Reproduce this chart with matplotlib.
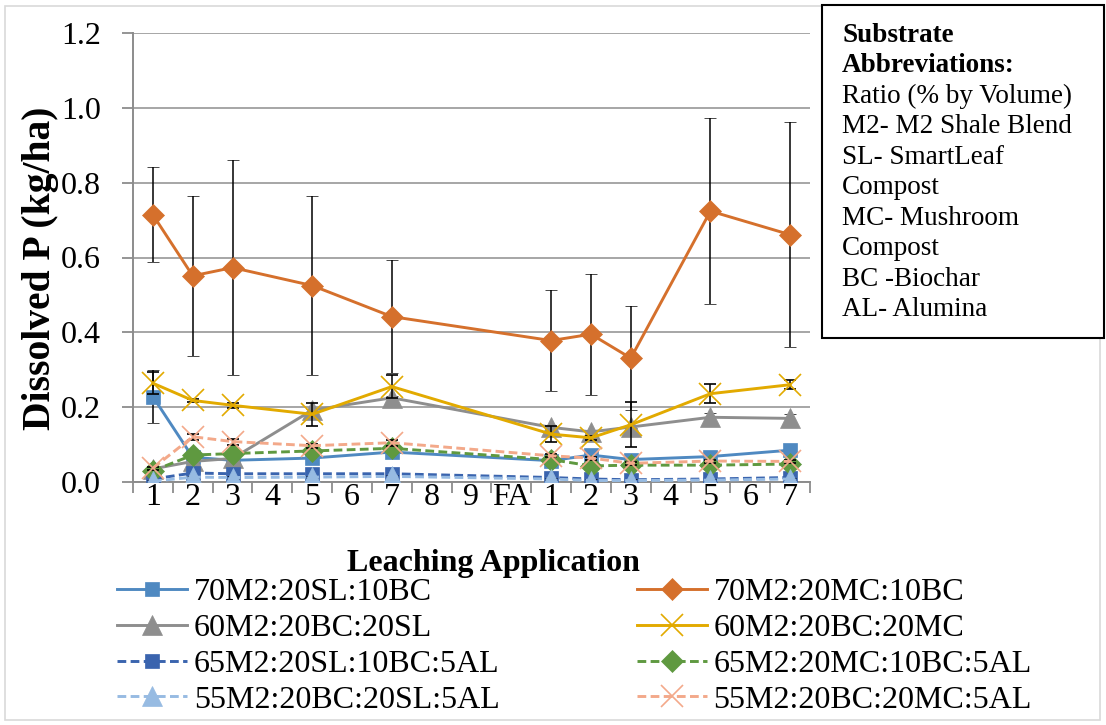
import matplotlib.pyplot as plt
from matplotlib.patches import Rectangle

plt.rcParams['font.family'] = ['Liberation Serif', 'DejaVu Serif']

# x categories and where samples were taken
x_labels = ['1', '2', '3', '4', '5', '6', '7', '8', '9', 'FA', '1', '2', '3', '4', '5', '6', '7']
sample_idx = [0, 1, 2, 4, 6, 10, 11, 12, 14, 16]

names = ['70M2:20SL:10BC', '70M2:20MC:10BC', '60M2:20BC:20SL', '60M2:20BC:20MC',
         '65M2:20SL:10BC:5AL', '65M2:20MC:10BC:5AL', '55M2:20BC:20SL:5AL', '55M2:20BC:20MC:5AL']

sl_bc = [0.228, 0.066, 0.058, 0.064, 0.080, 0.057, 0.072, 0.060, 0.068, 0.085]
mc_bc = [0.714, 0.551, 0.573, 0.525, 0.442, 0.378, 0.395, 0.331, 0.724, 0.661]
bc_sl = [0.035, 0.055, 0.063, 0.192, 0.225, 0.146, 0.134, 0.147, 0.173, 0.170]
bc_mc = [0.264, 0.218, 0.205, 0.181, 0.255, 0.128, 0.118, 0.153, 0.236, 0.260]
sl_bc_al = [0.008, 0.024, 0.022, 0.022, 0.022, 0.012, 0.008, 0.006, 0.008, 0.012]
mc_bc_al = [0.030, 0.072, 0.076, 0.083, 0.090, 0.060, 0.043, 0.045, 0.045, 0.048]
bc_sl_al = [0.002, 0.013, 0.012, 0.013, 0.015, 0.008, 0.004, 0.004, 0.005, 0.008]
bc_mc_al = [0.037, 0.121, 0.108, 0.097, 0.105, 0.070, 0.064, 0.050, 0.056, 0.055]

# standard errors
sl_bc_err = [0.070, 0.004, 0.004, 0.004, 0.004, 0.004, 0.004, 0.004, 0.004, 0.004]
mc_bc_err = [0.127, 0.213, 0.287, 0.239, 0.151, 0.135, 0.162, 0.139, 0.249, 0.301]
bc_sl_err = [0.004, 0.004, 0.004, 0.004, 0.004, 0.004, 0.004, 0.004, 0.012, 0.012]
bc_mc_err = [0.030, 0.005, 0.006, 0.030, 0.030, 0.022, 0.005, 0.060, 0.026, 0.012]
sl_bc_al_err = [0.003] * 10
mc_bc_al_err = [0.003] * 10
bc_sl_al_err = [0.003] * 10
bc_mc_al_err = [0.004, 0.008, 0.008, 0.005, 0.008, 0.004, 0.004, 0.004, 0.004, 0.004]

values = [sl_bc, mc_bc, bc_sl, bc_mc, sl_bc_al, mc_bc_al, bc_sl_al, bc_mc_al]
errors = [sl_bc_err, mc_bc_err, bc_sl_err, bc_mc_err, sl_bc_al_err, mc_bc_al_err, bc_sl_al_err, bc_mc_al_err]

colors = ['#4F89C1', '#D5702C', '#8E8E8E', '#E2AA00', '#3A64AE', '#5F9940', '#97BBE2', '#F3A98A']
markers = ['s', 'D', '^', 'x', 's', 'D', '^', 'x']
msizes = [10.5, 11, 14, 16, 10.5, 11, 14, 16]
styles = ['-', '-', '-', '-', '--', '--', '--', '--']

fig = plt.figure(figsize=(11.06, 7.25), dpi=100)
ax = fig.add_axes([133 / 1106, 1 - 482 / 725, 677 / 1106, 449 / 725])

handles = []
for i in range(8):
    eb = ax.errorbar(sample_idx, values[i], yerr=errors[i], color=colors[i], ecolor='black',
                     elinewidth=1.1, capsize=4.5, capthick=1.1, lw=2.1, ls=styles[i],
                     marker=markers[i], markersize=msizes[i], markeredgewidth=1.2 if markers[i] == 'x' else 0.5,
                     markeredgecolor=colors[i], zorder=3 + i)
    if styles[i] == '--':
        eb[0].set_dashes((3.0, 1.5))
    handles.append(eb[0])

ax.set_xlim(-0.5, len(x_labels) - 0.5)
ax.set_ylim(0, 1.2)
ax.set_yticks([0, 0.2, 0.4, 0.6, 0.8, 1.0, 1.2])
ax.set_yticklabels(['0.0', '0.2', '0.4', '0.6', '0.8', '1.0', '1.2'], fontsize=23)
ax.set_xticks(range(len(x_labels)))
ax.set_xticklabels(x_labels, fontsize=23)
ax.set_xticks([i - 0.5 for i in range(len(x_labels) + 1)], minor=True)
ax.tick_params(axis='x', which='major', length=0, pad=1)
ax.tick_params(axis='x', which='minor', length=8, width=1.3, color='#8C8C8C', direction='out')
ax.tick_params(axis='y', length=8, width=1.3, color='#8C8C8C', pad=15)

ax.grid(axis='y', color='#A6A6A6', lw=1.4)
ax.set_axisbelow(True)
for s in ['top', 'right']:
    ax.spines[s].set_visible(False)
ax.spines['left'].set_color('#8C8C8C')
ax.spines['bottom'].set_color('#8C8C8C')
ax.spines['left'].set_linewidth(1.4)
ax.spines['bottom'].set_linewidth(1.4)

ax.set_ylabel('Dissolved P (kg/ha)', fontsize=28.5, fontweight='bold')
ax.yaxis.set_label_coords(-0.110, 0.477)
fig.text(493 / 1106, 1 - 563 / 725, 'Leaching Application', fontsize=23, fontweight='bold',
         ha='center', va='center')

# legend: two columns, row-wise order
order = [0, 2, 4, 6, 1, 3, 5, 7]
fig.legend([handles[i] for i in order], [names[i] for i in order], ncol=2, frameon=False,
           loc='upper left', bbox_to_anchor=(117 / 1106, 1 - 578 / 725), fontsize=23,
           handlelength=2.2, handletextpad=0.2, columnspacing=4.3, labelspacing=0.2,
           borderpad=0, borderaxespad=0)

# outer chart border
fig.patches.append(Rectangle((5 / 1106, 5 / 725), 1095 / 1106, 714 / 725, transform=fig.transFigure,
                             fill=False, edgecolor='#D9D9D9', lw=1.2, zorder=0))

# abbreviations box
fig.patches.append(Rectangle((822 / 1106, 1 - 338 / 725), 282 / 1106, 333 / 725, transform=fig.transFigure,
                             facecolor='white', edgecolor='black', lw=1.5, zorder=5))
box_lines = ['Substrate', 'Abbreviations:', 'Ratio (% by Volume)', 'M2- M2 Shale Blend', 'SL- SmartLeaf',
             'Compost', 'MC- Mushroom', 'Compost', 'BC -Biochar', 'AL- Alumina']
for i, line in enumerate(box_lines):
    fig.text(842 / 1106, 1 - (35 + 30.5 * i) / 725, line, fontsize=19.5,
             fontweight='bold' if i < 2 else 'normal', ha='left', va='center', zorder=6)

plt.savefig('out.png', dpi=100)
